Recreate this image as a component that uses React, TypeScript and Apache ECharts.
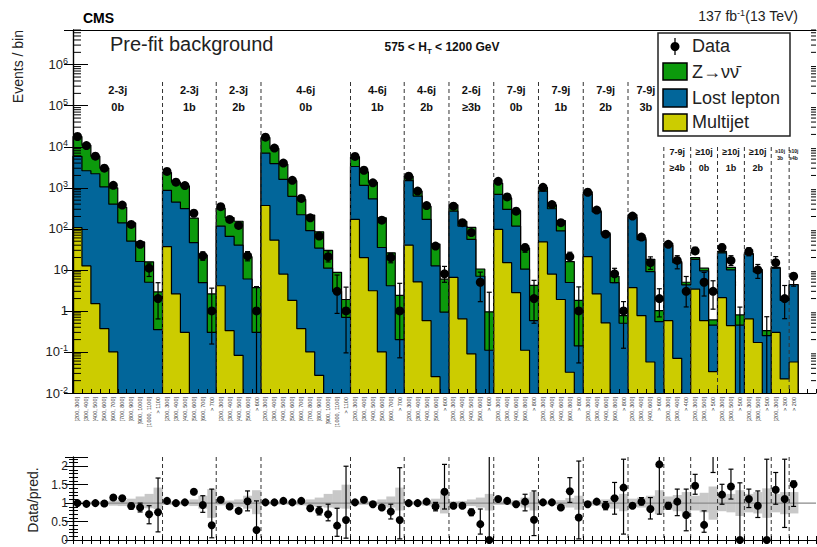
import React, { useEffect, useRef } from 'react';
import * as echarts from 'echarts';

const FONT = '"Liberation Sans", Arial, Helvetica, sans-serif';

// Search regions (jet multiplicity / b-tag multiplicity) and their number of MT2 bins
const regionJets = ['2-3j', '2-3j', '2-3j', '4-6j', '4-6j', '4-6j', '2-6j', '7-9j', '7-9j', '7-9j', '7-9j', '7-9j', '\u226510j', '\u226510j', '\u226510j', '\u226510j', '\u226510j'];
const regionBtags = ['0b', '1b', '2b', '0b', '1b', '2b', '\u22653b', '0b', '1b', '2b', '3b', '\u22654b', '0b', '1b', '2b', '3b', '\u22654b'];
const regionBinCounts = [10, 6, 5, 10, 6, 5, 5, 5, 5, 5, 4, 3, 3, 3, 3, 2, 1];

// MT2 bin labels (GeV)
const mt2Ten = ['[200, 300]', '[300, 400]', '[400, 500]', '[500, 600]', '[600, 700]', '[700, 800]', '[800, 900]', '[900, 1000]', '[1000, 1100]', '> 1100'];
const mt2Six = ['[200, 300]', '[300, 400]', '[400, 500]', '[500, 600]', '[600, 700]', '> 700'];
const mt2Five = ['[200, 300]', '[300, 400]', '[400, 500]', '[500, 600]', '> 600'];
const mt2FiveWide = ['[200, 300]', '[300, 400]', '[400, 600]', '[600, 800]', '> 800'];
const mt2Four = ['[200, 300]', '[300, 400]', '[400, 600]', '> 600'];
const mt2Three = ['[200, 300]', '[300, 400]', '> 400'];
const mt2ThreeHigh = ['[200, 300]', '[300, 500]', '> 500'];
const mt2Two = ['[200, 300]', '> 300'];
const mt2One = ['> 200'];
const mt2Labels = [
  ...mt2Ten, ...mt2Six, ...mt2Five, ...mt2Ten, ...mt2Six, ...mt2Five, ...mt2Five,
  ...mt2FiveWide, ...mt2FiveWide, ...mt2FiveWide, ...mt2Four, ...mt2Three,
  ...mt2ThreeHigh, ...mt2ThreeHigh, ...mt2ThreeHigh, ...mt2Two, ...mt2One, '', '',
];

// Observed events per bin
const dataObs = [
  17800, 10700, 5900, 3000, 1150, 380, 128, 42, 11, 2,
  2500, 1370, 1130, 240, 22, 1,
  347, 170, 121, 22, 1,
  17100, 9300, 4000, 1520, 550, 186, 67, 21, 3, 1,
  5800, 2680, 1320, 163, 20, 1,
  1910, 830, 370, 38, 8,
  357, 141, 81, 5, 0,
  1440, 600, 270, 35, 2,
  1030, 390, 141, 21, 1,
  780, 287, 74, 8, 1,
  205, 63, 15, 2,
  42, 17, 3,
  29, 5, 3,
  35, 17, 0,
  28, 10, 0,
  15, 2,
  7,
];

// Background predictions per bin
const multijet = [
  107, 12.5, 1.5, 0.37, 0.1, 0, 0, 0, 0, 0,
  37, 2.6, 0.3, 0, 0, 0,
  4.1, 0.33, 0.083, 0, 0,
  370, 53, 7.9, 1.8, 0.37, 0.1, 0.027, 0, 0, 0,
  170, 20, 3.1, 0.1, 0, 0,
  40, 5.1, 0.58, 0.025, 0,
  6.6, 0.64, 0.09, 0, 0,
  97, 15, 2.8, 0.11, 0,
  48, 7.9, 1.9, 0.032, 0,
  21, 2.6, 0.51, 0, 0,
  3.7, 0.77, 0.057, 0,
  0.58, 0.07, 0,
  3.4, 0.58, 0.033,
  2.1, 0.44, 0,
  0.64, 0.17, 0,
  0.3, 0.022,
  0.057,
];

const lostLepton = [
  5740, 2590, 2200, 1050, 400, 140, 50, 16, 5, 0.35,
  833, 447, 310, 46, 4.9, 0.3,
  113, 65, 40, 6, 0.3,
  6630, 3850, 1590, 618, 220, 90, 34, 11, 3.0, 0.7,
  3130, 1130, 537, 35, 4.1, 0.2,
  1460, 625, 169, 12.5, 0.93,
  263, 116, 55, 7, 0.11,
  593, 282, 114, 10.3, 0.58,
  782, 301, 87, 4.9, 0.14,
  679, 257, 73.5, 4.9, 0.5,
  186, 54, 9, 0.55,
  39, 15, 4.3,
  14.6, 8.9, 0.42,
  24, 9.6, 0.45,
  23.4, 8.8, 0.25,
  10.7, 1.78,
  4.3,
];

const zinv = [
  11950, 8300, 3700, 1980, 600, 196, 89, 32, 10.7, 2.55,
  1490, 920, 800, 137, 18, 2.3,
  201, 122, 113, 15, 3.4,
  9800, 5200, 2170, 870, 300, 126, 51, 19, 5.7, 1.2,
  2400, 1310, 820, 150, 22, 2.2,
  410, 200, 186, 30, 5,
  114, 35, 53, 3.5, 0.84,
  610, 269, 161, 23.6, 3.6,
  180, 73, 71, 11, 1.66,
  100, 16, 6, 2.1, 0.27,
  30, 6, 9, 0.47,
  5, 1, 0.7,
  2, 1.5, 0.15,
  2, 1.5, 0.35,
  1, 1.2, 0.08,
  0.5, 0.1,
  0.05,
];

// Data / prediction
const ratio = [
  1.0, 0.98, 1.0, 0.99, 1.15, 1.13, 0.92, 0.88, 0.70, 0.75,
  1.06, 1.0, 1.02, 1.31, 0.95, 0.40,
  1.09, 0.91, 0.79, 1.05, 0.27,
  1.02, 1.02, 1.06, 1.02, 1.06, 0.86, 0.79, 0.70, 0.39, 0.54,
  1.02, 1.09, 0.97, 0.88, 0.77, 0.54,
  1.0, 1.0, 1.04, 0.91, 1.31,
  0.93, 0.93, 0.75, 0.43, 0,
  1.11, 1.06, 0.97, 1.04, 0.55,
  1.02, 1.02, 0.88, 1.32, 0.61,
  0.97, 1.04, 0.93, 1.13, 1.42,
  0.93, 1.04, 0.84, 2.05,
  0.93, 1.04, 0.68,
  1.47, 0.41, 5.7,
  1.23, 1.45, 0,
  1.11, 0.93, 0,
  1.36, 1.11,
  1.51,
];
const n = null;
const ratioLo = [
  n, n, n, n, n, n, 0.84, 0.76, 0.44, 0.22,
  n, n, n, n, 0.75, 0.06,
  n, n, n, 0.79, 0,
  n, n, n, n, n, n, 0.68, 0.52, 0.1, 0.05,
  n, n, n, n, 0.57, 0.03,
  n, n, n, 0.79, 0.84,
  n, n, 0.66, 0.16, 0,
  n, n, n, 0.79, 0.12,
  n, n, n, 1.02, 0.03,
  n, n, 0.82, 0.70, 0.16,
  n, 0.95, 0.57, 0.70,
  0.84, 0.66, 0.25,
  1.24, 0.21, 1.83,
  0.97, 1.11, 0,
  0.88, 0.61, 0,
  0.97, 0.34,
  0.91,
];
const ratioHi = [
  n, n, n, n, n, n, 1.0, 1.0, 0.93, 1.68,
  n, n, n, n, 1.2, 1.38,
  n, n, n, 1.33, 1.06,
  n, n, n, n, n, n, 0.9, 0.97, 0.86, 2.0,
  n, n, n, n, 0.97, 1.96,
  n, n, n, 1.02, 2.05,
  n, n, 0.84, 0.84, 3.0,
  n, n, n, 1.24, 1.33,
  n, n, n, 1.69, 2.14,
  n, n, 1.04, 1.56, 2.19,
  n, 1.15, 1.15, 3.4,
  1.02, 1.38, 1.38,
  1.78, 0.79, 9,
  1.51, 1.92, 1.55,
  1.38, 1.33, 2.19,
  1.83, 2.19,
  1.6,
];

// Relative uncertainty band of the prediction
const bandLo = [
  0.96, 0.96, 0.96, 0.95, 0.93, 0.92, 0.90, 0.88, 0.86, 0.84,
  0.95, 0.95, 0.94, 0.92, 0.85, 0.60,
  0.94, 0.93, 0.90, 0.85, 0.70,
  0.96, 0.96, 0.96, 0.95, 0.94, 0.92, 0.90, 0.88, 0.86, 0.85,
  0.95, 0.95, 0.94, 0.92, 0.88, 0.80,
  0.95, 0.95, 0.93, 0.90, 0.72,
  0.95, 0.94, 0.92, 0.88, 0.80,
  0.95, 0.95, 0.93, 0.88, 0.80,
  0.95, 0.95, 0.92, 0.88, 0.82,
  0.94, 0.93, 0.90, 0.85, 0.78,
  0.90, 0.88, 0.80, 0.70,
  0.82, 0.78, 0.72,
  0.80, 0.75, 0.55,
  0.78, 0.75, 0.65,
  0.75, 0.72, 0.60,
  0.75, 0.70,
  0.72,
];
const bandHi = [
  1.04, 1.04, 1.04, 1.05, 1.07, 1.08, 1.12, 1.18, 1.25, 1.42,
  1.05, 1.05, 1.06, 1.10, 1.20, 1.38,
  1.06, 1.07, 1.10, 1.20, 1.35,
  1.04, 1.04, 1.04, 1.05, 1.07, 1.10, 1.15, 1.25, 1.35, 1.50,
  1.05, 1.05, 1.06, 1.10, 1.18, 1.42,
  1.05, 1.05, 1.08, 1.12, 1.30,
  1.05, 1.06, 1.10, 1.15, 1.25,
  1.05, 1.05, 1.08, 1.15, 1.30,
  1.05, 1.05, 1.08, 1.14, 1.20,
  1.06, 1.07, 1.10, 1.18, 1.25,
  1.12, 1.15, 1.20, 1.35,
  1.18, 1.22, 1.30,
  1.20, 1.28, 1.45,
  1.22, 1.25, 1.35,
  1.25, 1.30, 1.40,
  1.25, 1.30,
  1.30,
];

const AXIS_BINS = 83;
const LOG_MIN = 0.01;
const LOG_MAX = 7e6;
const TINY = 1e-5;

const COLOR_Z = '#0c9a0c';
const COLOR_LL = '#02669a';
const COLOR_MJ = '#cccc00';

function buildOption() {
  const nBins = dataObs.length;
  const mjStack = multijet.map((v) => v);
  const llStack = multijet.map((v, i) => v + lostLepton[i]);
  const totStack = llStack.map((v, i) => v + zinv[i]);

  const stepPoints = (vals: number[]) => {
    const pts: number[][] = [[0, TINY]];
    vals.forEach((v, i) => pts.push([i, v > 0 ? v : TINY]));
    const last = vals[vals.length - 1];
    pts.push([vals.length, last > 0 ? last : TINY]);
    pts.push([vals.length, TINY]);
    return pts;
  };

  const regionStarts: number[] = [];
  let acc = 0;
  regionBinCounts.forEach((c) => { regionStarts.push(acc); acc += c; });
  const boundaries = regionStarts.slice(1);
  const regionSize = (c: number) => (c >= 4 ? 'big' : c === 3 ? 'mid' : 'small');

  const seg = (x1: number, y1: number, x2: number, y2: number, stroke = '#000', lineWidth = 1, lineDash?: number[]) => ({
    type: 'line',
    shape: { x1, y1, x2, y2 },
    style: { stroke, lineWidth, lineDash },
  });

  const errorRender = (capHalf: number, lw: number) => (params: any, api: any) => {
    const cs = params.coordSys;
    const xv = api.value(0);
    const x = api.coord([xv, 1])[0];
    const rawLo = api.coord([xv, api.value(1)])[1];
    const rawHi = api.coord([xv, api.value(2)])[1];
    const bottom = cs.y + cs.height;
    const clamp = (y: number) => Math.min(bottom, Math.max(cs.y, isFinite(y) ? y : bottom));
    const yLo = clamp(rawLo);
    const yHi = clamp(rawHi);
    const children: any[] = [seg(x, yLo, x, yHi, '#000', lw)];
    if (isFinite(rawLo) && rawLo < bottom) children.push(seg(x - capHalf, yLo, x + capHalf, yLo, '#000', lw));
    if (rawHi > cs.y) children.push(seg(x - capHalf, yHi, x + capHalf, yHi, '#000', lw));
    return { type: 'group', children };
  };

  const mainErrData: number[][] = [];
  const ratioErrData: number[][] = [];
  for (let i = 0; i < nBins; i++) {
    const lo = ratioLo[i];
    const hi = ratioHi[i];
    if (lo == null || hi == null) continue;
    mainErrData.push([i + 0.5, Math.max(totStack[i] * lo, TINY), totStack[i] * hi]);
    ratioErrData.push([i + 0.5, lo, hi]);
  }

  const axisLineStyle = { color: '#000', width: 1.2 };

  const logLabel = (v: number) => {
    const l = Math.log10(v);
    const e = Math.round(l);
    if (Math.abs(l - e) > 0.01) return '';
    if (e === 0) return '{b|1}';
    if (e === 1) return '{b|10}';
    return `{b|10}{s|${e}}`;
  };

  const separatorRender = (isMain: boolean) => (params: any, api: any) => {
    const cs = params.coordSys;
    const x = api.coord([api.value(0), 1])[0];
    const tall = regionSize(regionBinCounts[params.dataIndex + 1]) === 'big';
    const yTop = isMain ? cs.y + (tall ? 52 : 117) : cs.y;
    return seg(x, yTop, x, cs.y + cs.height, '#333', 1, [4, 3]);
  };

  return {
    animation: false,
    backgroundColor: '#fff',
    grid: [
      { left: 73, top: 30, width: 743, height: 363, show: false, containLabel: false, outerBoundsMode: 'none' },
      { left: 73, top: 457, width: 743, height: 83, show: false, containLabel: false, outerBoundsMode: 'none' },
    ],
    xAxis: [
      {
        type: 'value', gridIndex: 0, min: 0, max: AXIS_BINS, interval: 1, position: 'bottom', z: 20,
        axisLine: { show: true, lineStyle: axisLineStyle },
        axisTick: { show: true, inside: true, length: 4, lineStyle: { color: '#000' } },
        axisLabel: { show: false }, splitLine: { show: false },
      },
      {
        type: 'category', gridIndex: 0, data: mt2Labels, position: 'bottom', boundaryGap: true, z: 20,
        axisLine: { show: false }, axisTick: { show: false }, splitLine: { show: false },
        axisLabel: { interval: 0, rotate: 90, fontSize: 5.5, color: '#333', margin: 4, fontFamily: FONT },
      },
      {
        type: 'value', gridIndex: 0, min: 0, max: AXIS_BINS, position: 'top', z: 20,
        axisLine: { show: true, lineStyle: axisLineStyle },
        axisTick: { show: false }, axisLabel: { show: false }, splitLine: { show: false },
      },
      {
        type: 'value', gridIndex: 1, min: 0, max: AXIS_BINS, interval: 1, position: 'bottom', z: 20,
        axisLine: { show: true, lineStyle: axisLineStyle },
        axisTick: { show: true, inside: true, length: 4, lineStyle: { color: '#000' } },
        axisLabel: { show: false }, splitLine: { show: false },
      },
      {
        type: 'value', gridIndex: 1, min: 0, max: AXIS_BINS, interval: 1, position: 'top', z: 20,
        axisLine: { show: true, lineStyle: axisLineStyle },
        axisTick: { show: true, inside: true, length: 4, lineStyle: { color: '#000' } },
        axisLabel: { show: false }, splitLine: { show: false },
      },
    ],
    yAxis: [
      {
        type: 'log', logBase: 10, gridIndex: 0, min: LOG_MIN, max: LOG_MAX, position: 'left', z: 20,
        axisLine: { show: true, lineStyle: axisLineStyle },
        axisTick: { show: true, inside: true, length: 15, lineStyle: { color: '#000' } },
        splitLine: { show: false },
        axisLabel: {
          formatter: logLabel, margin: 5, showMaxLabel: false,
          rich: {
            b: { fontSize: 13, fontFamily: FONT, color: '#222', lineHeight: 16 },
            s: { fontSize: 9, fontFamily: FONT, color: '#222', lineHeight: 9, verticalAlign: 'top' },
          },
        },
      },
      {
        type: 'log', logBase: 10, gridIndex: 0, min: LOG_MIN, max: LOG_MAX, position: 'right', z: 20,
        axisLine: { show: true, lineStyle: axisLineStyle },
        axisTick: { show: true, inside: true, length: 9, lineStyle: { color: '#000' } },
        splitLine: { show: false }, axisLabel: { show: false },
      },
      {
        type: 'value', gridIndex: 1, min: 0, max: 2.25, interval: 0.5, position: 'left', z: 20,
        axisLine: { show: true, lineStyle: axisLineStyle },
        axisTick: { show: true, inside: true, length: 15, lineStyle: { color: '#000' } },
        minorTick: { show: true, splitNumber: 5, length: 5, lineStyle: { color: '#000' } },
        splitLine: { show: false }, minorSplitLine: { show: false },
        axisLabel: {
          fontSize: 12, fontFamily: FONT, color: '#222', margin: 5, showMaxLabel: false,
          formatter: (v: number) => (Math.abs(v * 2 - Math.round(v * 2)) < 1e-6 ? String(v) : ''),
        },
      },
      {
        type: 'value', gridIndex: 1, min: 0, max: 2.25, interval: 0.5, position: 'right', z: 20,
        axisLine: { show: true, lineStyle: axisLineStyle },
        axisTick: { show: true, inside: true, length: 8, lineStyle: { color: '#000' } },
        minorTick: { show: true, splitNumber: 5, length: 4, lineStyle: { color: '#000' } },
        splitLine: { show: false }, axisLabel: { show: false },
      },
    ],
    series: [
      // stacked backgrounds, drawn back to front
      {
        name: 'Z', type: 'line', xAxisIndex: 0, yAxisIndex: 0, step: 'end', symbol: 'none', silent: true, z: 2,
        data: stepPoints(totStack), lineStyle: { color: '#000', width: 1.2 },
        areaStyle: { color: COLOR_Z, opacity: 1, origin: 'start' },
      },
      {
        name: 'LL', type: 'line', xAxisIndex: 0, yAxisIndex: 0, step: 'end', symbol: 'none', silent: true, z: 3,
        data: stepPoints(llStack), lineStyle: { color: '#000', width: 1.2 },
        areaStyle: { color: COLOR_LL, opacity: 1, origin: 'start' },
      },
      {
        name: 'MJ', type: 'line', xAxisIndex: 0, yAxisIndex: 0, step: 'end', symbol: 'none', silent: true, z: 4,
        data: stepPoints(mjStack), lineStyle: { color: '#000', width: 1.2 },
        areaStyle: { color: COLOR_MJ, opacity: 1, origin: 'start' },
      },
      // region separators and labels
      {
        type: 'custom', coordinateSystem: 'cartesian2d', xAxisIndex: 0, yAxisIndex: 0, silent: true, z: 6,
        data: boundaries.map((b) => [b, 1]), renderItem: separatorRender(true),
      },
      {
        type: 'custom', coordinateSystem: 'cartesian2d', xAxisIndex: 0, yAxisIndex: 0, silent: true, z: 6,
        data: regionStarts.map((s, i) => [s + regionBinCounts[i] / 2, 1]),
        renderItem: (params: any, api: any) => {
          const i = params.dataIndex;
          const cs = params.coordSys;
          const x = api.coord([api.value(0), 1])[0];
          const size = regionSize(regionBinCounts[i]);
          const fs = size === 'big' ? 11 : size === 'mid' ? 9 : 5;
          const y1 = cs.y + (size === 'big' ? 60 : size === 'mid' ? 122 : 121);
          const y2 = cs.y + (size === 'big' ? 77 : size === 'mid' ? 138 : 128);
          const txt = (y: number, t: string) => ({
            type: 'text', x, y,
            style: { text: t, fill: '#111', fontSize: fs, fontWeight: 'bold', fontFamily: FONT, align: 'center', verticalAlign: 'middle' },
          });
          return { type: 'group', children: [txt(y1, regionJets[i]), txt(y2, regionBtags[i])] };
        },
      },
      // log minor ticks on both sides
      {
        type: 'custom', coordinateSystem: 'cartesian2d', xAxisIndex: 0, yAxisIndex: 0, silent: true, z: 21,
        data: [[0, 1]],
        renderItem: (params: any, api: any) => {
          const cs = params.coordSys;
          const children: any[] = [];
          for (let k = -2; k <= 6; k++) {
            for (let m = 2; m <= 9; m++) {
              const v = m * Math.pow(10, k);
              if (v > LOG_MAX) continue;
              const y = api.coord([0, v])[1];
              children.push(seg(cs.x, y, cs.x + 8, y));
              children.push(seg(cs.x + cs.width - 5, y, cs.x + cs.width, y));
            }
          }
          return { type: 'group', children };
        },
      },
      // data
      {
        type: 'custom', coordinateSystem: 'cartesian2d', xAxisIndex: 0, yAxisIndex: 0, silent: true, z: 7,
        data: mainErrData, renderItem: errorRender(2.5, 1.2),
      },
      {
        type: 'scatter', xAxisIndex: 0, yAxisIndex: 0, symbol: 'circle', symbolSize: 9, silent: true, z: 8,
        itemStyle: { color: '#000', opacity: 1 },
        data: dataObs.map((v, i) => [i + 0.5, v]).filter((p) => p[1] > 0),
      },
      // ratio panel
      {
        type: 'custom', coordinateSystem: 'cartesian2d', xAxisIndex: 3, yAxisIndex: 2, silent: true, z: 1,
        data: bandLo.map((lo, i) => [i, lo, bandHi[i]]),
        renderItem: (params: any, api: any) => {
          const i0 = api.value(0);
          const p1 = api.coord([i0, api.value(2)]);
          const p2 = api.coord([i0 + 1, api.value(1)]);
          return {
            type: 'rect',
            shape: { x: p1[0], y: p1[1], width: p2[0] - p1[0] + 0.3, height: p2[1] - p1[1] },
            style: { fill: '#c8c8c8' },
          };
        },
      },
      {
        type: 'custom', coordinateSystem: 'cartesian2d', xAxisIndex: 3, yAxisIndex: 2, silent: true, z: 2,
        data: [[0, 1]],
        renderItem: (params: any, api: any) => {
          const a = api.coord([0, 1]);
          const b = api.coord([AXIS_BINS, 1]);
          return seg(a[0], a[1], b[0], b[1], '#8a8a8a', 1.3);
        },
      },
      {
        type: 'custom', coordinateSystem: 'cartesian2d', xAxisIndex: 3, yAxisIndex: 2, silent: true, z: 3,
        data: boundaries.map((b) => [b, 1]), renderItem: separatorRender(false),
      },
      {
        type: 'custom', coordinateSystem: 'cartesian2d', xAxisIndex: 3, yAxisIndex: 2, silent: true, z: 4,
        data: ratioErrData, renderItem: errorRender(2.5, 1.2),
      },
      {
        type: 'scatter', xAxisIndex: 3, yAxisIndex: 2, symbol: 'circle', symbolSize: 8, silent: true, z: 5,
        itemStyle: { color: '#000', opacity: 1 }, clip: true,
        data: ratio.map((v, i) => [i + 0.5, v]),
      },
    ],
    graphic: [
      {
        type: 'text', x: 83, y: 18, z: 100,
        style: { text: 'CMS', fontSize: 14, fontWeight: 'bold', fontFamily: FONT, fill: '#000', verticalAlign: 'middle' },
      },
      {
        type: 'text', x: 798, y: 16, z: 100,
        style: {
          text: '{a|137 fb}{s|-1}{a|(13 TeV)}', align: 'right', verticalAlign: 'middle',
          rich: {
            a: { fontSize: 14, fontFamily: FONT, fill: '#222', lineHeight: 16 },
            s: { fontSize: 9, fontFamily: FONT, fill: '#222', lineHeight: 9, verticalAlign: 'top' },
          },
        },
      },
      {
        type: 'text', x: 110, y: 44, z: 100,
        style: { text: 'Pre-fit background', fontSize: 20, fontFamily: FONT, fill: '#222', verticalAlign: 'middle' },
      },
      {
        type: 'text', x: 442, y: 47, z: 100,
        style: {
          text: '{a|575 < H}{t|T}{a| < 1200 GeV}', align: 'center', verticalAlign: 'middle',
          rich: {
            a: { fontSize: 12, fontWeight: 'bold', fontFamily: FONT, fill: '#111', lineHeight: 16 },
            t: { fontSize: 8, fontWeight: 'bold', fontFamily: FONT, fill: '#111', lineHeight: 8, verticalAlign: 'bottom' },
          },
        },
      },
      {
        type: 'text', x: 18, y: 30, rotation: Math.PI / 2, z: 100,
        style: { text: 'Events / bin', fontSize: 14, fontFamily: FONT, fill: '#222', align: 'right', verticalAlign: 'middle' },
      },
      {
        type: 'text', x: 33, y: 500, rotation: Math.PI / 2, z: 100,
        style: { text: 'Data/pred.', fontSize: 14, fontFamily: FONT, fill: '#222', align: 'center', verticalAlign: 'middle' },
      },
      // legend
      {
        type: 'rect', z: 100, shape: { x: 658, y: 33, width: 132, height: 103 },
        style: { fill: '#fff', stroke: '#222', lineWidth: 1.5 },
      },
      { type: 'line', z: 101, shape: { x1: 675, y1: 38, x2: 675, y2: 55 }, style: { stroke: '#000', lineWidth: 1.3 } },
      { type: 'circle', z: 101, shape: { cx: 675, cy: 46.5, r: 4.5 }, style: { fill: '#000' } },
      { type: 'text', x: 692, y: 46, z: 101, style: { text: 'Data', fontSize: 18, fontFamily: FONT, fill: '#222', verticalAlign: 'middle' } },
      { type: 'rect', z: 101, shape: { x: 663, y: 63, width: 24, height: 17 }, style: { fill: COLOR_Z, stroke: '#000', lineWidth: 1.5 } },
      { type: 'text', x: 692, y: 72, z: 101, style: { text: 'Z\u2192\u03BD\u03BD\u0304', fontSize: 18, fontFamily: FONT, fill: '#222', verticalAlign: 'middle' } },
      { type: 'rect', z: 101, shape: { x: 663, y: 89, width: 24, height: 18 }, style: { fill: COLOR_LL, stroke: '#000', lineWidth: 1.5 } },
      { type: 'text', x: 692, y: 98, z: 101, style: { text: 'Lost lepton', fontSize: 18, fontFamily: FONT, fill: '#222', verticalAlign: 'middle' } },
      { type: 'rect', z: 101, shape: { x: 663, y: 114, width: 24, height: 17 }, style: { fill: COLOR_MJ, stroke: '#000', lineWidth: 1.5 } },
      { type: 'text', x: 692, y: 122, z: 101, style: { text: 'Multijet', fontSize: 18, fontFamily: FONT, fill: '#222', verticalAlign: 'middle' } },
    ],
  };
}

export default function App() {
  const ref = useRef<HTMLDivElement>(null);
  useEffect(() => {
    if (!ref.current) return;
    const chart = echarts.init(ref.current, undefined, { renderer: 'svg' });
    chart.setOption(buildOption() as any);
    return () => chart.dispose();
  }, []);
  return (
    <div
      ref={ref}
      style={{ position: 'absolute', left: 0, top: 0, width: 817, height: 547, background: '#fff' }}
    />
  );
}
